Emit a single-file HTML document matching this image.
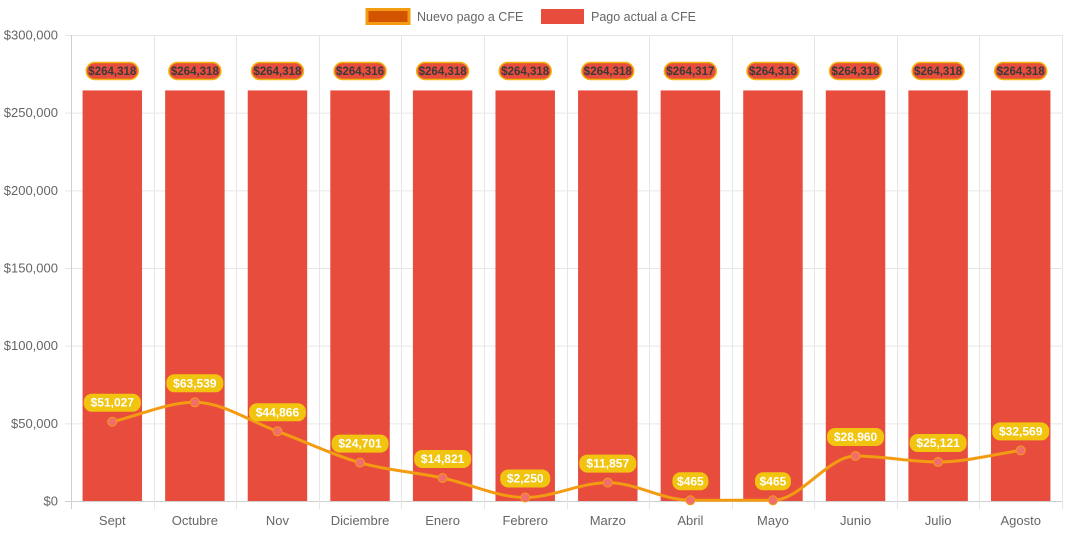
<!DOCTYPE html>
<html><head><meta charset="utf-8"><style>
html,body{margin:0;padding:0;background:#fff;}
svg{display:block;font-family:"Liberation Sans",Arial,sans-serif;}
</style></head><body>
<svg id="c" width="1068" height="533"></svg>
<script>
const categories=["Sept","Octubre","Nov","Diciembre","Enero","Febrero","Marzo","Abril","Mayo","Junio","Julio","Agosto"];
const actualValues=[264318,264318,264318,264316,264318,264318,264318,264317,264318,264318,264318,264318];
const nuevoValues=[51027,63539,44866,24701,14821,2250,11857,465,465,28960,25121,32569];
const yTicks=[0,50000,100000,150000,200000,250000,300000];
const NS="http://www.w3.org/2000/svg";
const svg=document.getElementById('c');
const L=71,R=1062,T=35,B=501,YMAX=300000;
const cw=(R-L)/categories.length;
const x=i=>L+cw*(i+0.5);
const y=v=>B-(v/YMAX)*(B-T);
const fmt=v=>'$'+v.toLocaleString('en-US');
function el(t,a,p){const e=document.createElementNS(NS,t);for(const k in a)e.setAttribute(k,a[k]);(p||svg).appendChild(e);return e;}
yTicks.forEach(v=>{
  const g=el('line',{x1:L-6,x2:R,y1:y(v)+.5,y2:y(v)+.5,stroke:v===0?'#cfcfcf':'#e6e6e6'});
  
  
  const t=el('text',{x:L-13,y:y(v)+4.5,'text-anchor':'end','font-size':13,fill:'#666'});
  t.textContent=fmt(v);
  
  
});
for(let i=0;i<=categories.length;i++){
  const xx=Math.round(L+cw*i)+.5;
  const g=el('line',{x1:xx,x2:xx,y1:T,y2:B+8,stroke:i===0?'#cfcfcf':'#e6e6e6'});
  
  
}
const bw=cw*0.72;
actualValues.forEach((v,i)=>{
  const r=el('rect',{x:x(i)-bw/2,y:y(v),width:bw,height:B-y(v),fill:'#e74c3c'});
  
  
  const ly=71;
  const p=el('rect',{x:x(i)-26,y:ly-8.5,width:52,height:17,rx:8.5,fill:'#e74c3c',stroke:'#f1b40f','stroke-width':1.5});
  
  
  const t=el('text',{x:x(i),y:ly+4,'text-anchor':'middle','font-size':11.5,'font-weight':'bold',fill:'#3a3a3a'});
  t.textContent=fmt(v);
  
  
});
categories.forEach((c,i)=>{
  const t=el('text',{x:x(i),y:525,'text-anchor':'middle','font-size':13,fill:'#666'});
  t.textContent=c;
  
  
});
const px=nuevoValues.map((v,i)=>x(i)),py=nuevoValues.map(v=>y(v));
const n=px.length,d=[],m=[];
for(let i=0;i<n-1;i++)d.push((py[i+1]-py[i])/(px[i+1]-px[i]));
m[0]=d[0];m[n-1]=d[n-2];
for(let i=1;i<n-1;i++)m[i]=(d[i-1]*d[i]<=0)?0:(d[i-1]+d[i])/2;
for(let i=0;i<n-1;i++){if(d[i]===0){m[i]=m[i+1]=0;continue;}const a=m[i]/d[i],b=m[i+1]/d[i],s=a*a+b*b;if(s>9){const t=3/Math.sqrt(s);m[i]=t*a*d[i];m[i+1]=t*b*d[i];}}
let dd='M'+px[0]+','+py[0];
for(let i=0;i<n-1;i++){const h=(px[i+1]-px[i])/3;dd+=' C'+(px[i]+h)+','+(py[i]+m[i]*h)+' '+(px[i+1]-h)+','+(py[i+1]-m[i+1]*h)+' '+px[i+1]+','+py[i+1];}
const line=el('path',{d:dd,fill:'none',stroke:'#f39c12','stroke-width':3});


nuevoValues.forEach((v,i)=>{
  const c=el('circle',{cx:px[i],cy:py[i],r:4.5,fill:'#f26d6d',stroke:'#f39c12','stroke-width':1});
  
  
  const s=fmt(v),w=s.length*7+8,ly=py[i]-19;
  const p=el('rect',{x:px[i]-w/2,y:ly-9,width:w,height:18,rx:8,fill:'#f1c40f'});
  
  
  const t=el('text',{x:px[i],y:ly+4,'text-anchor':'middle','font-size':12,'font-weight':'bold',fill:'#fff'});
  t.textContent=s;
  
  
});
const lg=el('g',{});


const b1=el('rect',{x:367,y:9.5,width:42,height:14,fill:'#d35400',stroke:'#f39c12','stroke-width':3},lg);


const t1=el('text',{x:417,y:21,'font-size':12.5,fill:'#666'},lg);t1.textContent='Nuevo pago a CFE';


const b2=el('rect',{x:541,y:9,width:43,height:15,fill:'#e74c3c'},lg);


const t2=el('text',{x:591,y:21,'font-size':12.5,fill:'#666'},lg);t2.textContent='Pago actual a CFE';


</script>
</body></html>
